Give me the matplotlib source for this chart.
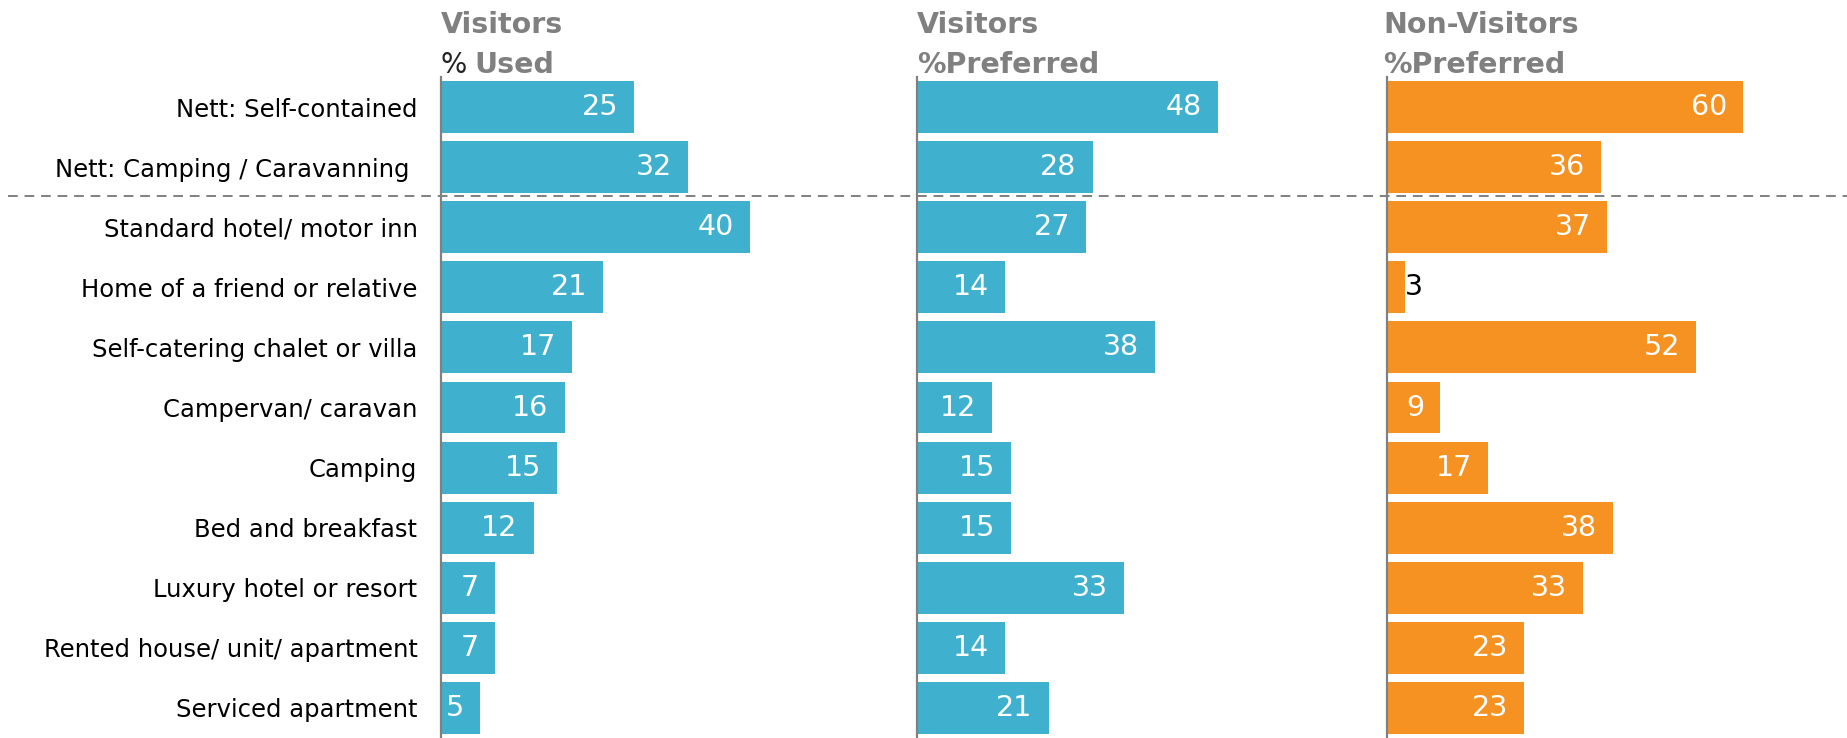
import matplotlib
matplotlib.use("Agg")
import matplotlib.pyplot as plt
from matplotlib.lines import Line2D

categories = [
    "Nett: Self-contained",
    "Nett: Camping / Caravanning ",
    "Standard hotel/ motor inn",
    "Home of a friend or relative",
    "Self-catering chalet or villa",
    "Campervan/ caravan",
    "Camping",
    "Bed and breakfast",
    "Luxury hotel or resort",
    "Rented house/ unit/ apartment",
    "Serviced apartment",
]
visitors_used = [25, 32, 40, 21, 17, 16, 15, 12, 7, 7, 5]
visitors_preferred = [48, 28, 27, 14, 38, 12, 15, 15, 33, 14, 21]
non_visitors_preferred = [60, 36, 37, 3, 52, 9, 17, 38, 33, 23, 23]

BLUE = "#3FB1CE"
ORANGE = "#F59221"
GREY = "#808080"

W, H = 1847, 738
DPI = 100
fig = plt.figure(figsize=(W / DPI, H / DPI), dpi=DPI)
plt.rcParams["font.family"] = ["DejaVu Sans"]


def fx(px):
    return px / W


def fy(py):
    return 1 - py / H


top_px = 77
panels = [
    # (series, colour, left px, width px, xmax, header line 1, header x)
    (visitors_used, BLUE, 441, 450, 450 / 7.72, "Visitors", 441),
    (visitors_preferred, BLUE, 917, 450, 450 / 6.27, "Visitors", 917),
    (non_visitors_preferred, ORANGE, 1387, 450, 450 / 5.94, "Non-Visitors", 1383),
]

ypos = list(range(len(categories)))
for i, (vals, col, left, width, xmax, head, hx) in enumerate(panels):
    ax = fig.add_axes([fx(left), 0, width / W, (H - top_px) / H])
    ax.barh(ypos, vals, height=0.865, color=col, edgecolor="none")
    ax.set_xlim(0, xmax)
    ax.set_ylim(len(categories) - 0.5, -0.5)
    for s in ("top", "right", "bottom"):
        ax.spines[s].set_visible(False)
    ax.spines["left"].set_color(GREY)
    ax.spines["left"].set_linewidth(1.6)
    ax.set_xticks([])
    ax.set_yticks(ypos)
    if i == 0:
        ax.set_yticklabels(categories, fontsize=17.5, color="black")
    else:
        ax.set_yticklabels([])
    ax.tick_params(axis="y", length=0, pad=17)
    ax.patch.set_alpha(0)

    for y, v in zip(ypos, vals):
        if v >= 5:
            ax.annotate(str(v), xy=(v, y), xytext=(-11.5, 0),
                        textcoords="offset points", ha="right", va="center",
                        fontsize=20.5, color="white")
        else:
            ax.annotate(str(v), xy=(v, y), xytext=(0, 0),
                        textcoords="offset points", ha="left", va="center",
                        fontsize=20.5, color="black")

    fig.text(fx(hx), fy(33), head, fontsize=20.5, fontweight="bold",
             color=GREY, ha="left", va="baseline")

# Second header lines
fig.text(fx(441), fy(73), "%", fontsize=20, color="#222222",
         ha="left", va="baseline")
fig.text(fx(474), fy(73), "Used", fontsize=20.5, fontweight="bold",
         color=GREY, ha="left", va="baseline")
fig.text(fx(917), fy(73), "%Preferred", fontsize=20.5, fontweight="bold",
         color=GREY, ha="left", va="baseline")
fig.text(fx(1383), fy(73), "%Preferred", fontsize=20.5, fontweight="bold",
         color=GREY, ha="left", va="baseline")

# Separator between net groupings and individual types
fig.add_artist(Line2D([fx(8), 1], [fy(196), fy(196)], color=GREY,
                      linewidth=1.4, linestyle=(0, (5, 3.5))))

fig.savefig("out.png", dpi=DPI)
